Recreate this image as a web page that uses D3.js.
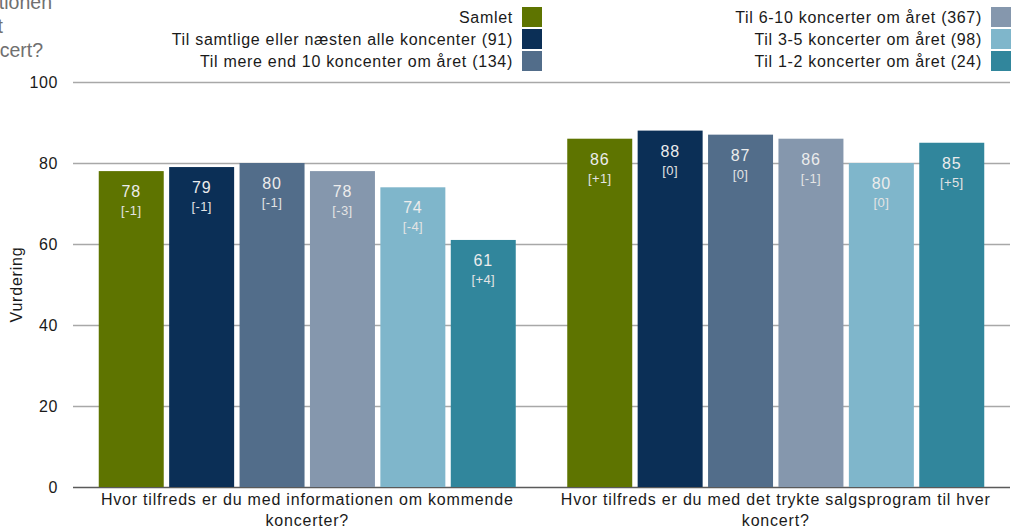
<!DOCTYPE html>
<html>
<head>
<meta charset="utf-8">
<script src="https://cdn.jsdelivr.net/npm/d3@7"></script>
<style>
  html, body { margin: 0; padding: 0; background: #fff; }
  svg { display: block; font-family: "Liberation Sans", Arial, sans-serif; }
</style>
</head>
<body>
<svg id="chart" width="1016" height="531"></svg>
<script>
// Survey questions (x categories)
const categories = [
  "Hvor tilfreds er du med informationen om kommende koncerter?",
  "Hvor tilfreds er du med det trykte salgsprogram til hver koncert?"
];

// Respondent groups (series)
const seriesNames = [
  "Samlet",
  "Til samtlige eller næsten alle koncenter (91)",
  "Til mere end 10 koncenter om året (134)",
  "Til 6-10 koncerter om året (367)",
  "Til 3-5 koncerter om året (98)",
  "Til 1-2 koncerter om året (24)"
];

const seriesColors = ["#5e7400", "#0b2f56", "#526d8a", "#8597ad", "#7fb6cb", "#31869c"];

// Ratings per question, one value per group
const infoValues = [78, 79, 80, 78, 74, 61];
const programValues = [86, 88, 87, 86, 80, 85];

// Change since previous survey
const infoChanges = [-1, -1, -1, -3, -4, 4];
const programChanges = [1, 0, 0, -1, 0, 5];

const yTicks = [0, 20, 40, 60, 80, 100];
const yTitle = "Vurdering";

// Caption lines partly outside the left edge
const captionLines = [
  "Hvor tilfreds er du med informationen",
  "om kommende koncerter samt",
  "det trykte salgsprogram til hver koncert?"
];

const rows = [
  { category: categories[0], values: infoValues, changes: infoChanges },
  { category: categories[1], values: programValues, changes: programChanges }
];

const svg = d3.select("#chart");
const plot = { left: 73, right: 1010, top: 82, bottom: 487 };

const x0 = d3.scaleBand().domain(categories).range([plot.left, plot.right]);
const x1 = d3.scaleBand().domain(seriesNames)
  .range([25.75, x0.bandwidth() - 25.75]).paddingInner(0.077);
const y = d3.scaleLinear().domain([0, 100]).range([plot.bottom, plot.top]);
const color = d3.scaleOrdinal().domain(seriesNames).range(seriesColors);

const fmtChange = v => v > 0 ? "+" + v : String(v);

// Caption
svg.append("g").selectAll("text").data(captionLines).join("text")
  .attr("x", (d, i) => [52, 3, 43][i])
  .attr("y", (d, i) => 9 + i * 24)
  .attr("text-anchor", "end")
  .attr("font-size", 19.5)
  .attr("fill", "#707070")
  .text(d => d);

// Y axis with gridlines
const yAxis = svg.append("g")
  .attr("transform", `translate(${plot.left},0)`)
  .call(d3.axisLeft(y).tickValues(yTicks).tickSize(-(plot.right - plot.left)).tickPadding(15));
yAxis.select(".domain").remove();
yAxis.selectAll(".tick line")
  .attr("stroke", d => d === 0 ? "#5a5a5a" : "#a8a8a8")
  .attr("stroke-width", 1.5);
yAxis.selectAll(".tick text")
  .attr("font-size", 16)
  .attr("letter-spacing", 0.6)
  .attr("fill", "#1a1a1a")
  .attr("font-family", "Liberation Sans, Arial, sans-serif");

// Y title
svg.append("text")
  .attr("transform", `translate(22,${(plot.top + plot.bottom) / 2}) rotate(-90)`)
  .attr("text-anchor", "middle")
  .attr("font-size", 16)
  .attr("letter-spacing", 0.8)
  .attr("fill", "#1a1a1a")
  .text(yTitle);

// Bars
const groups = svg.append("g").selectAll("g").data(rows).join("g")
  .attr("transform", d => `translate(${x0(d.category)},0)`);

const bars = groups.selectAll("g").data(d => d.values.map((v, i) => ({
  name: seriesNames[i], value: v, change: d.changes[i]
}))).join("g");

bars.append("rect")
  .attr("x", d => x1(d.name))
  .attr("y", d => y(d.value))
  .attr("width", x1.bandwidth())
  .attr("height", d => y(0) - y(d.value))
  .attr("fill", d => color(d.name));

bars.append("text")
  .attr("x", d => x1(d.name) + x1.bandwidth() / 2)
  .attr("y", d => y(d.value) + 26)
  .attr("text-anchor", "middle")
  .attr("font-size", 16)
  .attr("letter-spacing", 0.8)
  .attr("fill", "#ececec")
  .text(d => d.value);

bars.append("text")
  .attr("x", d => x1(d.name) + x1.bandwidth() / 2)
  .attr("y", d => y(d.value) + 44)
  .attr("text-anchor", "middle")
  .attr("font-size", 13)
  .attr("letter-spacing", 0.4)
  .attr("fill", "#e4e4e4")
  .text(d => "[" + fmtChange(d.change) + "]");

// Category labels, wrapped to the band width
const catLabels = svg.append("g").selectAll("text").data(categories).join("text")
  .attr("x", d => x0(d) + x0.bandwidth() / 2)
  .attr("y", 505)
  .attr("text-anchor", "middle")
  .attr("font-size", 16)
  .attr("letter-spacing", 0.8)
  .attr("fill", "#1a1a1a");

catLabels.each(function (d) {
  const el = d3.select(this);
  const words = d.split(" ");
  const maxW = x0.bandwidth() - 10;
  let line = [];
  let tspan = el.append("tspan").attr("x", el.attr("x")).attr("dy", 0);
  for (const w of words) {
    line.push(w);
    tspan.text(line.join(" "));
    if (tspan.node().getComputedTextLength() > maxW && line.length > 1) {
      line.pop();
      tspan.text(line.join(" "));
      line = [w];
      tspan = el.append("tspan").attr("x", el.attr("x")).attr("dy", 21).text(w);
    }
  }
});

// Legend: two right-aligned columns of three
const legend = svg.append("g").selectAll("g").data(seriesNames).join("g")
  .attr("transform", (d, i) => {
    const col = Math.floor(i / 3), row = i % 3;
    return `translate(${col === 0 ? 522 : 991},${7 + row * 22})`;
  });
legend.append("rect")
  .attr("width", 20).attr("height", 20)
  .attr("fill", d => color(d));
legend.append("text")
  .attr("x", -9).attr("y", 15.5)
  .attr("text-anchor", "end")
  .attr("font-size", 16)
  .attr("letter-spacing", 0.7)
  .attr("fill", "#1a1a1a")
  .text(d => d);
</script>
</body>
</html>
